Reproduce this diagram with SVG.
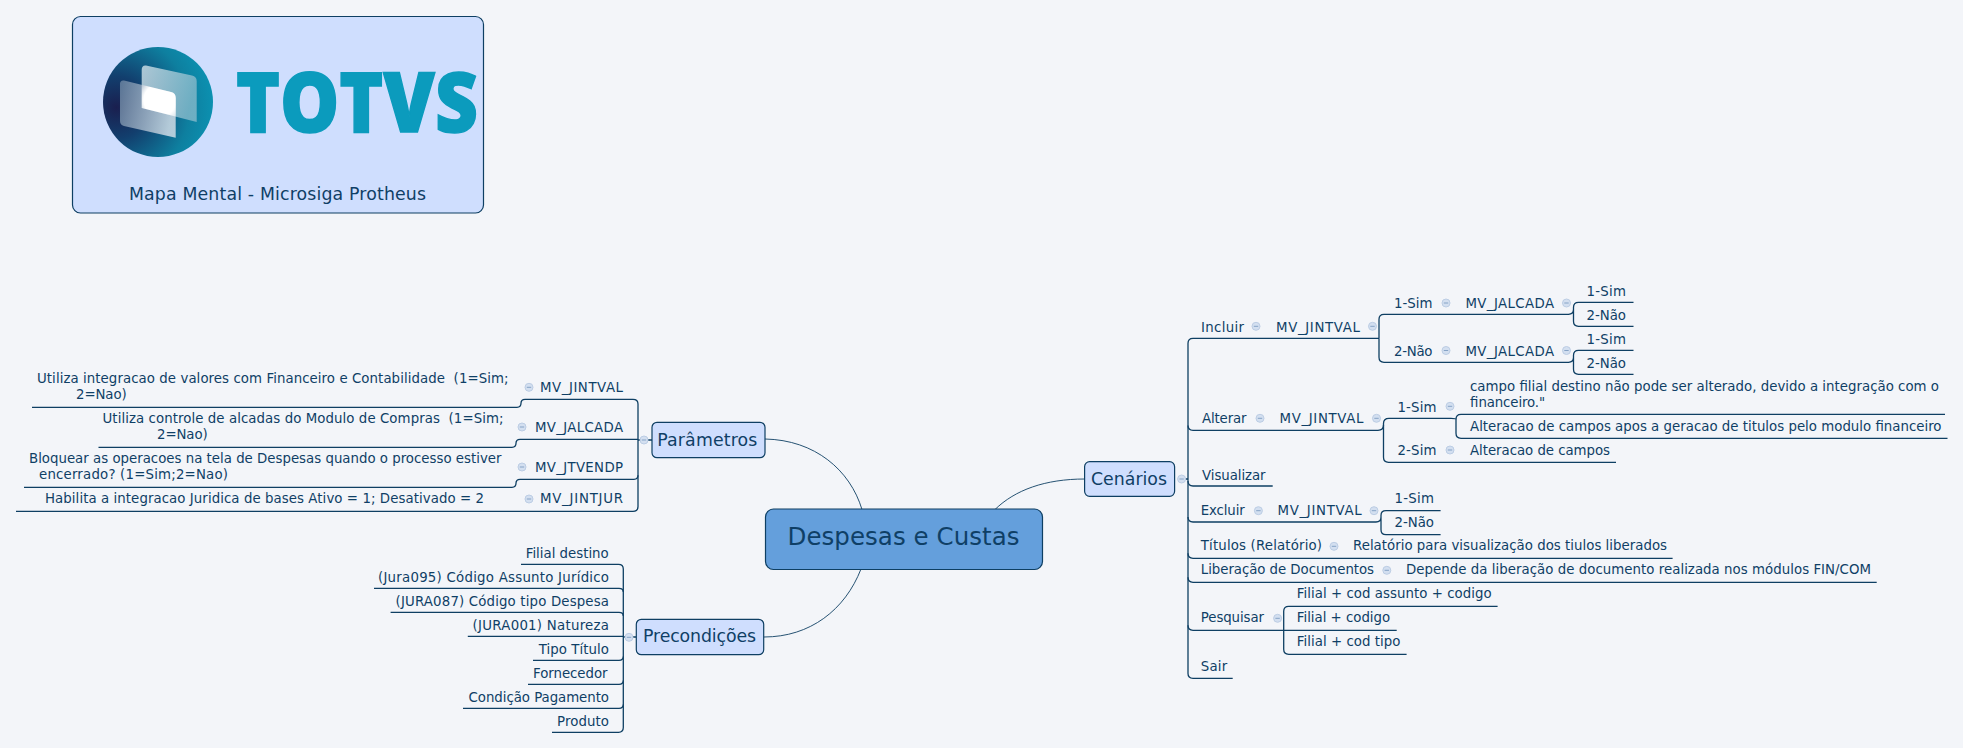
<svg xmlns="http://www.w3.org/2000/svg" width="1963" height="748" viewBox="0 0 1963 748">
<style>
text{font-family:"DejaVu Sans","Liberation Sans",sans-serif;font-size:13.33px;fill:#0f3f66;white-space:pre}
.c{fill:none;stroke:#0e3f63;stroke-width:1.3}
.t{fill:none;stroke:#0e3f63;stroke-width:.9}
.b{fill:#cfdefe;stroke:#0e3f63;stroke-width:1.2}
.m{font-size:17.33px}
.d{fill:#d3dff0;stroke:#bccde4;stroke-width:1}
.e{fill:none;stroke:#86a3c6;stroke-width:1}
</style>
<defs>
<radialGradient id="ball" cx=".12" cy=".55" r=".95"><stop offset="0" stop-color="#1a1f4f"/><stop offset=".3" stop-color="#123f6e"/><stop offset=".7" stop-color="#0e7f9f"/><stop offset="1" stop-color="#0b96b6"/></radialGradient>
<linearGradient id="pa" x1="0" y1="0" x2="1" y2=".3"><stop offset="0" stop-color="#c9dbe4"/><stop offset="1" stop-color="#7fb6c8"/></linearGradient>
<linearGradient id="pb" x1="0" y1="0" x2="1" y2=".2"><stop offset="0" stop-color="#66809e"/><stop offset="1" stop-color="#d0dce6"/></linearGradient>
<radialGradient id="glow" gradientUnits="userSpaceOnUse" cx="160" cy="100" r="27"><stop offset="0" stop-color="#fff"/><stop offset=".6" stop-color="#fff"/><stop offset="1" stop-color="#fff" stop-opacity="0"/></radialGradient>
<clipPath id="lens"><path d="M141.700 84.800L171 92Q175.700 93 175.700 98V116.600L141.700 108Z"/></clipPath>
<symbol id="dot" overflow="visible"><circle class="d" r="4"/><path class="e" d="M-2.200 0H2.200"/></symbol>
</defs>
<rect width="1963" height="748" fill="#f3f5f9"/>
<g id="connectors">
<path class="t" d="M765 439C815 440 850 470 862 509.500"/>
<path class="t" d="M764 637C810 637 845 610 861 569"/>
<path class="t" d="M1085 479C1045 479 1015 490 995 509.500"/>
<path class="c" d="M652 440H638M1181 479H1188M636 637H623"/>
<path class="c" d="M32 407.300H517Q521 407.300 521 403.300Q521 399.300 525 399.300H633Q638 399.300 638 404V506.500Q638 511.300 633 511.300H16"/>
<path class="c" d="M98.500 447.300H512Q516 447.300 516 443.300Q516 439.300 520 439.300H638"/>
<path class="c" d="M24 487.300H512Q516 487.300 516 483.300Q516 479.300 520 479.300H634Q638 479.300 638 475.300"/>
<path class="c" d="M521 564.300H618.500Q623.300 564.300 623.300 569V727.500Q623.300 732.300 618.500 732.300H552"/>
<path class="c" d="M374 588.300H619Q623.300 588.300 623.300 592M390.600 612.300H619Q623.300 612.300 623.300 616M467.800 636.300H623.300M533 660.300H619Q623.300 660.300 623.300 656.500M528 684.300H619Q623.300 684.300 623.300 680.500M463 708.300H619Q623.300 708.300 623.300 704.500"/>
<path class="c" d="M1379 338.300H1193Q1188 338.300 1188 343.300V673.500Q1188 678.300 1193 678.300H1232.700"/>
<path class="c" d="M1188 425.500Q1188 430.300 1193 430.300H1378Q1383.500 430.300 1383.500 425V423.500Q1383.500 418.300 1389 418.300H1451Q1456 418.300 1456 419.300"/>
<path class="c" d="M1188 481Q1188 486 1193 486H1272.700M1188 517Q1188 522 1193 522H1376Q1381 522 1381 517V515.500Q1381 510.700 1386 510.700H1440.600M1381 517V529.700Q1381 534.700 1386 534.700H1440.600"/>
<path class="c" d="M1188 553.300Q1188 558.300 1193 558.300H1672.600M1188 577.300Q1188 582.300 1193 582.300H1876.700M1188 625.300Q1188 630.300 1193 630.300H1396.700"/>
<path class="c" d="M1497.600 606.300H1288.700Q1283.700 606.300 1283.700 611.300V649.300Q1283.700 654.300 1288.700 654.300H1406.600"/>
<path class="c" d="M1379 338.300V319.300Q1379 314.300 1384 314.300H1568.500Q1573.500 314.300 1573.500 309.300V307.300Q1573.500 302.300 1578.500 302.300H1633.500M1573.500 309.300V321.300Q1573.500 326.300 1578.500 326.300H1633.500"/>
<path class="c" d="M1379 338.300V357.300Q1379 362.300 1384 362.300H1568.500Q1573.500 362.300 1573.500 357.300V355.300Q1573.500 350.300 1578.500 350.300H1633.500M1573.500 357.300V369.300Q1573.500 374.300 1578.500 374.300H1633.500"/>
<path class="c" d="M1383.500 425V457.300Q1383.500 462.300 1388.500 462.300H1616"/>
<path class="c" d="M1945 414.300H1461Q1456 414.300 1456 419.300V433.300Q1456 438.300 1461 438.300H1947.500"/>
</g>
<g id="logo-card">
<rect class="b" x="72.500" y="16.500" width="411" height="196.500" rx="8"/>
<circle cx="158" cy="102" r="55" fill="url(#ball)"/>
<path d="M146 65.500L192 75.500Q196.700 76.500 196.700 81V122L141.700 108V70Q141.700 65 146 65.500Z" fill="url(#pa)" fill-opacity=".85"/>
<path d="M124 80.500L171 92Q175.700 93 175.700 98V137.700L124 126Q120 125 120 121V84Q120 80 124 80.500Z" fill="url(#pb)" fill-opacity=".85"/>
<rect x="130" y="70" width="60" height="60" fill="url(#glow)" clip-path="url(#lens)"/>
<text x="236" y="132" style="font-family:'Open Sans','DejaVu Sans',sans-serif;font-size:84px;font-weight:800;fill:#0b9bbd;stroke:#0b9bbd;stroke-width:1.500" textLength="242" lengthAdjust="spacingAndGlyphs">TOTVS</text>
<text x="129" y="200" style="font-size:17.330px" textLength="297">Mapa Mental - Microsiga Protheus</text>
</g>
<g id="root">
<rect x="765.500" y="509" width="277" height="60.500" rx="8" fill="#649fdc" stroke="#0e3f63" stroke-width="1.200"/>
<text x="787.500" y="545" style="font-size:24.500px" textLength="232">Despesas e Custas</text>
</g>
<g id="parametros">
<rect class="b" x="652" y="422.300" width="113" height="35.400" rx="5"/>
<text class="m" x="657.300" y="446" textLength="100">Parâmetros</text>
<use href="#dot" x="644" y="440"/>
</g>
<g id="precondicoes">
<rect class="b" x="636.300" y="619.300" width="127.400" height="35.400" rx="5"/>
<text class="m" x="643" y="642.300" textLength="113">Precondições</text>
<use href="#dot" x="629" y="637.300"/>
</g>
<g id="cenarios">
<rect class="b" x="1084.600" y="461.700" width="90" height="34.600" rx="5"/>
<text class="m" x="1091" y="485" textLength="76">Cenários</text>
<use href="#dot" x="1181.600" y="479"/>
</g>
<g id="param-items">
<text x="37" y="383" xml:space="preserve" textLength="471.500">Utiliza integracao de valores com Financeiro e Contabilidade  (1=Sim;</text>
<text x="76" y="399" textLength="50.700">2=Nao)</text>
<use href="#dot" x="529" y="387.300"/><text x="540" y="391.700" textLength="83">MV_JINTVAL</text>
<text x="102.500" y="423" xml:space="preserve" textLength="401">Utiliza controle de alcadas do Modulo de Compras  (1=Sim;</text>
<text x="157" y="439" textLength="50.700">2=Nao)</text>
<use href="#dot" x="522" y="427"/><text x="535" y="431.700" textLength="88">MV_JALCADA</text>
<text x="29" y="463" textLength="472.500">Bloquear as operacoes na tela de Despesas quando o processo estiver</text>
<text x="39" y="479" textLength="189">encerrado? (1=Sim;2=Nao)</text>
<use href="#dot" x="522" y="467"/><text x="535" y="471.700" textLength="88">MV_JTVENDP</text>
<text x="45" y="503" textLength="439">Habilita a integracao Juridica de bases Ativo = 1; Desativado = 2</text>
<use href="#dot" x="529" y="499"/><text x="540" y="503" textLength="83">MV_JINTJUR</text>
</g>
<g id="precond-items">
<text x="525.700" y="557.500" textLength="83">Filial destino</text>
<text x="378" y="581.500" textLength="231">(Jura095) Código Assunto Jurídico</text>
<text x="395.600" y="605.500" textLength="213.400">(JURA087) Código tipo Despesa</text>
<text x="472.600" y="629.500" textLength="136.400">(JURA001) Natureza</text>
<text x="538.800" y="653.500" textLength="70">Tipo Título</text>
<text x="533" y="678" textLength="74.500">Fornecedor</text>
<text x="468.600" y="701.500" textLength="140.400">Condição Pagamento</text>
<text x="557" y="726" textLength="52">Produto</text>
</g>
<g id="incluir">
<text x="1201" y="331.700" textLength="43">Incluir</text><use href="#dot" x="1256" y="326.300"/>
<text x="1276" y="331.700" textLength="84">MV_JINTVAL</text><use href="#dot" x="1372.500" y="326.300"/>
<text x="1394" y="308" textLength="38.500">1-Sim</text><use href="#dot" x="1446" y="303"/>
<text x="1465.500" y="308" textLength="88.500">MV_JALCADA</text><use href="#dot" x="1566.500" y="303"/>
<text x="1586.500" y="295.700" textLength="39.500">1-Sim</text><text x="1586.500" y="320" textLength="39.500">2-Não</text>
<text x="1394" y="355.500" textLength="38.500">2-Não</text><use href="#dot" x="1446" y="350.500"/>
<text x="1465.500" y="355.500" textLength="88.500">MV_JALCADA</text><use href="#dot" x="1566.500" y="350.500"/>
<text x="1586.500" y="343.700" textLength="39.500">1-Sim</text><text x="1586.500" y="368" textLength="39.500">2-Não</text>
</g>
<g id="alterar">
<text x="1202" y="423.300" textLength="44.500">Alterar</text><use href="#dot" x="1260" y="418.300"/>
<text x="1279.500" y="423.300" textLength="84">MV_JINTVAL</text><use href="#dot" x="1376.500" y="418.300"/>
<text x="1397.500" y="411.700" textLength="39">1-Sim</text><use href="#dot" x="1450" y="406.300"/>
<text x="1470" y="390.700" textLength="469">campo filial destino não pode ser alterado, devido a integração com o</text>
<text x="1470" y="407.300" textLength="75">financeiro."</text>
<text x="1470" y="430.700" textLength="471.500">Alteracao de campos apos a geracao de titulos pelo modulo financeiro</text>
<text x="1397.500" y="455" textLength="39">2-Sim</text><use href="#dot" x="1450" y="450"/>
<text x="1470" y="455" textLength="140">Alteracao de campos</text>
</g>
<g id="visualizar"><text x="1202" y="479.700" textLength="63.600">Visualizar</text></g>
<g id="excluir">
<text x="1200.800" y="515" textLength="43.900">Excluir</text><use href="#dot" x="1258.400" y="510.700"/>
<text x="1277.600" y="515" textLength="84">MV_JINTVAL</text><use href="#dot" x="1374" y="510.700"/>
<text x="1394.500" y="503" textLength="39.500">1-Sim</text><text x="1394.500" y="527.300" textLength="39.500">2-Não</text>
</g>
<g id="titulos">
<text x="1200.800" y="550.300" textLength="121.200">Títulos (Relatório)</text><use href="#dot" x="1334" y="546.300"/>
<text x="1353" y="550.300" textLength="314">Relatório para visualização dos tiulos liberados</text>
</g>
<g id="liberacao">
<text x="1200.800" y="574.300" textLength="173.200">Liberação de Documentos</text><use href="#dot" x="1386.800" y="570.300"/>
<text x="1406" y="574.300" textLength="465">Depende da liberação de documento realizada nos módulos FIN/COM</text>
</g>
<g id="pesquisar">
<text x="1200.800" y="622.300" textLength="63.200">Pesquisar</text><use href="#dot" x="1277.600" y="618.300"/>
<text x="1296.800" y="598.300" textLength="194.800">Filial + cod assunto + codigo</text>
<text x="1296.800" y="622.300" textLength="93.300">Filial + codigo</text>
<text x="1296.800" y="646.300" textLength="103.700">Filial + cod tipo</text>
</g>
<g id="sair"><text x="1200.800" y="671" textLength="26.400">Sair</text></g>
</svg>
